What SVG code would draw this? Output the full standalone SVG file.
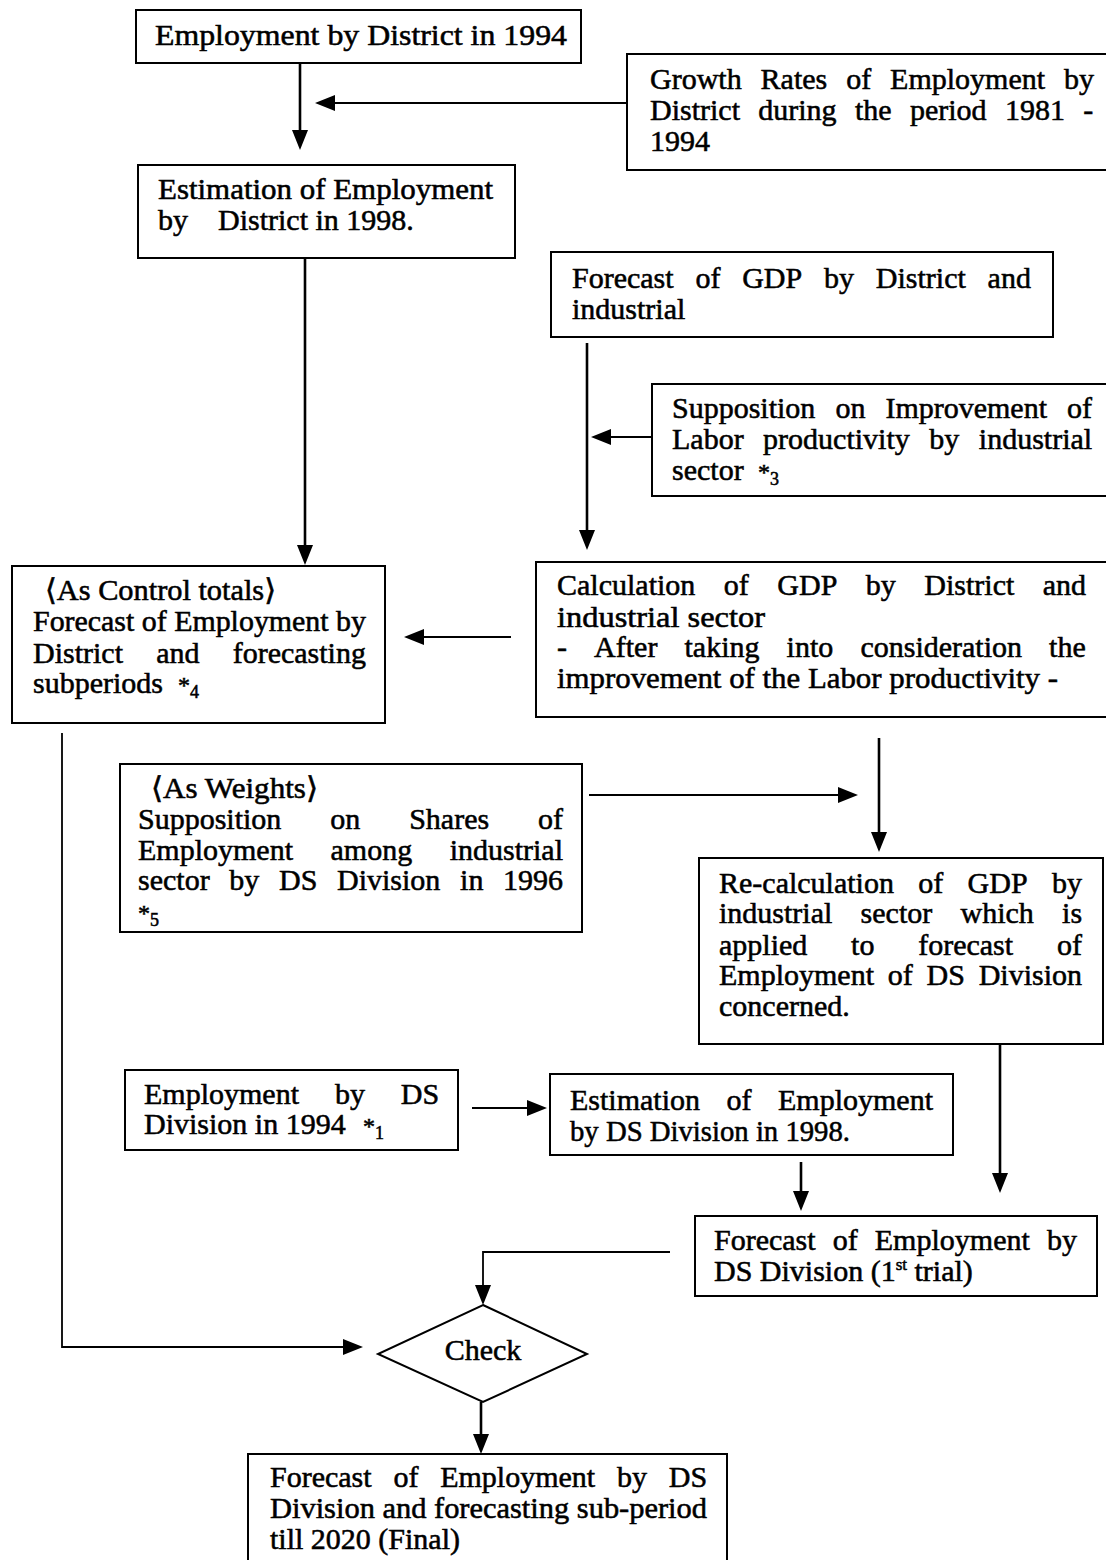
<svg xmlns="http://www.w3.org/2000/svg" width="1106" height="1560" viewBox="0 0 1106 1560">
<defs>
<style>
.box{fill:none;stroke:#000;stroke-width:2}
.t{font-family:"Liberation Serif","DejaVu Serif",serif;font-size:30px;fill:#000;stroke:#000;stroke-width:0.55}
.sub{font-size:18px}
.st{font-size:24px}
.c{fill:none;stroke:#000;stroke-width:1.8}
.cv{fill:none;stroke:#000;stroke-width:2.6}
</style>
<marker id="ah" markerUnits="userSpaceOnUse" markerWidth="20" markerHeight="16" viewBox="0 0 20 16" refX="14" refY="8" orient="auto">
<path d="M0,0 L20,8 L0,16 z" fill="#000"/>
</marker>
</defs>
<rect width="1106" height="1560" fill="#fff"/>

<g id="connectors">
<line class="cv" x1="300" y1="63" x2="300" y2="144" marker-end="url(#ah)"/>
<line class="c" x1="627" y1="103" x2="321" y2="103" marker-end="url(#ah)"/>
<line class="cv" x1="305" y1="258" x2="305" y2="559" marker-end="url(#ah)"/>
<line class="cv" x1="587" y1="343" x2="587" y2="544" marker-end="url(#ah)"/>
<line class="c" x1="652" y1="437" x2="597" y2="437" marker-end="url(#ah)"/>
<line class="c" x1="511" y1="637" x2="410" y2="637" marker-end="url(#ah)"/>
<polyline class="c" points="62,733 62,1347 357,1347" marker-end="url(#ah)"/>
<line class="c" x1="589" y1="795" x2="852" y2="795" marker-end="url(#ah)"/>
<line class="cv" x1="879" y1="738" x2="879" y2="846" marker-end="url(#ah)"/>
<line class="cv" x1="1000" y1="1044" x2="1000" y2="1187" marker-end="url(#ah)"/>
<line class="c" x1="472" y1="1108" x2="541" y2="1108" marker-end="url(#ah)"/>
<line class="cv" x1="801" y1="1162" x2="801" y2="1205" marker-end="url(#ah)"/>
<polyline class="c" points="670,1252 483,1252 483,1299" marker-end="url(#ah)"/>
<line class="cv" x1="481" y1="1402" x2="481" y2="1448" marker-end="url(#ah)"/>
</g>

<g id="n1">
<rect class="box" x="136" y="10" width="445" height="53"/>
<text class="t" x="155" y="45" textLength="412" lengthAdjust="spacingAndGlyphs">Employment by District in 1994</text>
</g>

<g id="n2">
<rect class="box" x="627" y="54" width="483" height="116"/>
<text class="t" y="89"><tspan x="650">Growth</tspan><tspan x="760.6">Rates</tspan><tspan x="846.2">of</tspan><tspan x="890.1">Employment</tspan><tspan x="1064">by</tspan></text>
<text class="t" y="120"><tspan x="650">District</tspan><tspan x="758.3">during</tspan><tspan x="854.9">the</tspan><tspan x="909.9">period</tspan><tspan x="1004.9">1981</tspan><tspan x="1083.2">-</tspan></text>
<text class="t" x="650" y="151">1994</text>
</g>

<g id="n3">
<rect class="box" x="138" y="165" width="377" height="93"/>
<text class="t" x="158" y="199" textLength="335" lengthAdjust="spacingAndGlyphs">Estimation of Employment</text>
<text class="t" y="230"><tspan x="158">by</tspan><tspan x="218">District in 1998.</tspan></text>
</g>

<g id="n4">
<rect class="box" x="551" y="252" width="502" height="85"/>
<text class="t" y="288"><tspan x="572">Forecast</tspan><tspan x="695.4">of</tspan><tspan x="742.2">GDP</tspan><tspan x="824">by</tspan><tspan x="875.8">District</tspan><tspan x="987.6">and</tspan></text>
<text class="t" x="572" y="319">industrial</text>
</g>

<g id="n5">
<rect class="box" x="652" y="384" width="458" height="112"/>
<text class="t" y="418"><tspan x="672">Supposition</tspan><tspan x="835.4">on</tspan><tspan x="885.4">Improvement</tspan><tspan x="1067">of</tspan></text>
<text class="t" y="449"><tspan x="672">Labor</tspan><tspan x="763.1">productivity</tspan><tspan x="929.3">by</tspan><tspan x="978.8">industrial</tspan></text>
<text class="t" y="480"><tspan x="672">sector</tspan><tspan class="st" x="758">*</tspan><tspan class="sub" dy="5">3</tspan></text>
</g>

<g id="n6">
<rect class="box" x="12" y="566" width="373" height="157"/>
<text class="t" x="45" y="600" textLength="231" lengthAdjust="spacingAndGlyphs">⟨As Control totals⟩</text>
<text class="t" x="33" y="631" textLength="333" lengthAdjust="spacingAndGlyphs">Forecast of Employment by</text>
<text class="t" y="663"><tspan x="33">District</tspan><tspan x="156.2">and</tspan><tspan x="232.7">forecasting</tspan></text>
<text class="t" y="693"><tspan x="33">subperiods</tspan><tspan class="st" x="178">*</tspan><tspan class="sub" dy="5">4</tspan></text>
</g>

<g id="n7">
<rect class="box" x="536" y="562" width="574" height="155"/>
<text class="t" y="595"><tspan x="557">Calculation</tspan><tspan x="723.8">of</tspan><tspan x="777.3">GDP</tspan><tspan x="865.8">by</tspan><tspan x="924.3">District</tspan><tspan x="1042.8">and</tspan></text>
<text class="t" x="557" y="627" textLength="208" lengthAdjust="spacingAndGlyphs">industrial sector</text>
<text class="t" y="657"><tspan x="557">-</tspan><tspan x="594.1">After</tspan><tspan x="684.5">taking</tspan><tspan x="786.6">into</tspan><tspan x="860.4">consideration</tspan><tspan x="1049.1">the</tspan></text>
<text class="t" x="557" y="688" textLength="501" lengthAdjust="spacingAndGlyphs">improvement of the Labor productivity -</text>
</g>

<g id="n8">
<rect class="box" x="120" y="764" width="462" height="168"/>
<text class="t" x="151" y="798" textLength="167" lengthAdjust="spacingAndGlyphs">⟨As Weights⟩</text>
<text class="t" y="829"><tspan x="138">Supposition</tspan><tspan x="330.3">on</tspan><tspan x="409.2">Shares</tspan><tspan x="538.1">of</tspan></text>
<text class="t" y="860"><tspan x="138">Employment</tspan><tspan x="330.5">among</tspan><tspan x="449.7">industrial</tspan></text>
<text class="t" y="890"><tspan x="138">sector</tspan><tspan x="229.3">by</tspan><tspan x="279">DS</tspan><tspan x="337">Division</tspan><tspan x="460.1">in</tspan><tspan x="503.1">1996</tspan></text>
<text class="t st" y="921"><tspan x="138">*</tspan><tspan class="sub" dy="5">5</tspan></text>
</g>

<g id="n9">
<rect class="box" x="699" y="858" width="404" height="186"/>
<text class="t" y="893"><tspan x="719">Re-calculation</tspan><tspan x="918.3">of</tspan><tspan x="967.6">GDP</tspan><tspan x="1051.9">by</tspan></text>
<text class="t" y="923"><tspan x="719">industrial</tspan><tspan x="860.6">sector</tspan><tspan x="960.5">which</tspan><tspan x="1062.1">is</tspan></text>
<text class="t" y="955"><tspan x="719">applied</tspan><tspan x="851.1">to</tspan><tspan x="918.2">forecast</tspan><tspan x="1057">of</tspan></text>
<text class="t" y="985"><tspan x="719">Employment</tspan><tspan x="887.8">of</tspan><tspan x="926.6">DS</tspan><tspan x="978.7">Division</tspan></text>
<text class="t" x="719" y="1016">concerned.</text>
</g>

<g id="n10">
<rect class="box" x="125" y="1070" width="333" height="80"/>
<text class="t" y="1104"><tspan x="144">Employment</tspan><tspan x="334.9">by</tspan><tspan x="400.8">DS</tspan></text>
<text class="t" y="1134"><tspan x="144">Division in 1994</tspan><tspan class="st" x="363">*</tspan><tspan class="sub" dy="5">1</tspan></text>
</g>

<g id="n11">
<rect class="box" x="550" y="1074" width="403" height="81"/>
<text class="t" y="1110"><tspan x="570">Estimation</tspan><tspan x="726.5">of</tspan><tspan x="778">Employment</tspan></text>
<text class="t" x="570" y="1141" textLength="280" lengthAdjust="spacingAndGlyphs">by DS Division in 1998.</text>
</g>

<g id="n12">
<rect class="box" x="695" y="1216" width="402" height="80"/>
<text class="t" y="1250"><tspan x="714">Forecast</tspan><tspan x="832.7">of</tspan><tspan x="874.8">Employment</tspan><tspan x="1046.9">by</tspan></text>
<text class="t" x="714" y="1281">DS Division (1<tspan font-size="17" dy="-11">st</tspan><tspan dy="11"> trial)</tspan></text>
</g>

<g id="n13">
<polygon class="box" points="483,1305 587,1354 483,1402 378,1354"/>
<text class="t" x="483" y="1360" text-anchor="middle">Check</text>
</g>

<g id="n14">
<rect class="box" x="248" y="1454" width="479" height="116"/>
<text class="t" y="1487"><tspan x="270">Forecast</tspan><tspan x="393.4">of</tspan><tspan x="440.2">Employment</tspan><tspan x="617">by</tspan><tspan x="668.8">DS</tspan></text>
<text class="t" x="270" y="1518" textLength="437" lengthAdjust="spacingAndGlyphs">Division and forecasting sub-period</text>
<text class="t" x="270" y="1549">till 2020 (Final)</text>
</g>
</svg>
